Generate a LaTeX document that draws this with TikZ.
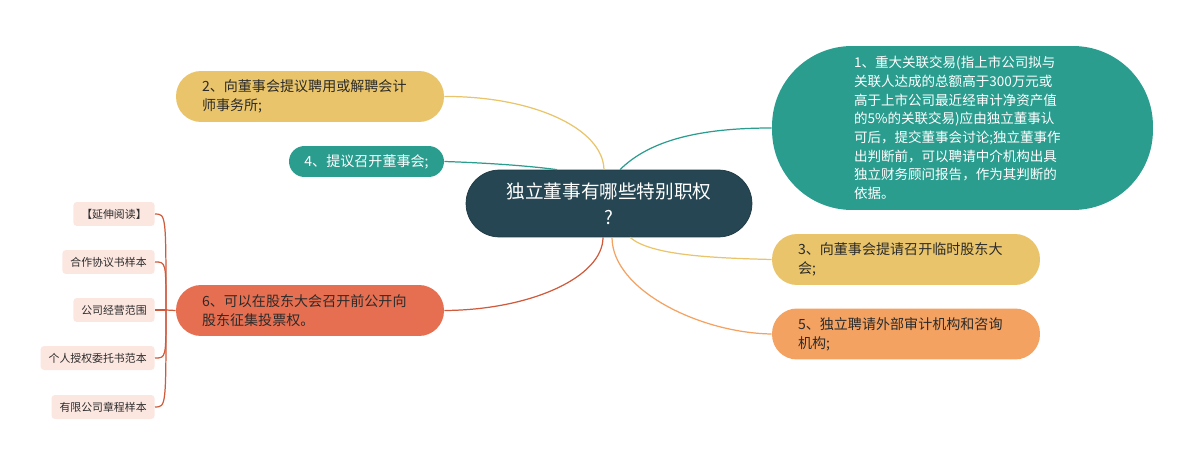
\documentclass[tikz,border=0pt]{standalone}
\usepackage{fontspec}
\setmainfont{Noto Sans CJK SC}
\usepackage{xcolor}
\usetikzlibrary{positioning, calc}

\definecolor{darkc}{HTML}{264653}
\definecolor{tealc}{HTML}{2A9D8F}
\definecolor{yellowc}{HTML}{E9C46A}
\definecolor{orangec}{HTML}{F4A261}
\definecolor{redc}{HTML}{E76F51}
\definecolor{redline}{HTML}{CF5A3C}
\definecolor{leafc}{HTML}{FCE6E0}
\definecolor{textc}{HTML}{2B2B2B}

\begin{document}
\begin{tikzpicture}[x=0.02cm, y=-0.02cm,
    topic/.style={rectangle, rounded corners=0.5cm, inner xsep=0.52cm, inner ysep=0pt, minimum height=1.02cm, text width=4.32cm, align=left, text=textc, font=\fontsize{8}{10.8}\selectfont},
    leaf/.style={rectangle, rounded corners=2pt, fill=leafc, inner xsep=0.16cm, minimum height=0.48cm, text=textc, font=\fontsize{6.2}{8}\selectfont, anchor=east},
    link/.style={line width=0.7pt}]
    \useasboundingbox (0,0) rectangle (1200,466);

    \node[rectangle, rounded corners=0.67cm, fill=darkc, draw=darkc!80!black, minimum width=5.72cm, minimum height=1.34cm, align=center, text=white, font=\fontsize{10.6}{15}\selectfont] (ctr) at (609, 203.5) {独立董事有哪些特别职权\\?};

    \node[rectangle, rounded corners=1.6cm, fill=tealc, minimum width=7.62cm, minimum height=3.28cm, inner xsep=0pt, text=white, align=left, text width=4.34cm, font=\fontsize{7.7}{10.6}\selectfont] (n1) at (962.5, 128) {1、重大关联交易(指上市公司拟与\\关联人达成的总额高于300万元或\\高于上市公司最近经审计净资产值\\的5\%的关联交易)应由独立董事认\\可后，提交董事会讨论;独立董事作\\出判断前，可以聘请中介机构出具\\独立财务顾问报告，作为其判断的\\依据。};
    \node[topic, fill=yellowc] (n2) at (310, 96.5) {2、向董事会提议聘用或解聘会计\\师事务所;};
    \node[rectangle, rounded corners=0.31cm, fill=tealc, minimum width=3.1cm, minimum height=0.62cm, text=white, font=\fontsize{8}{10.8}\selectfont] (n4) at (366.5, 161.5) {4、提议召开董事会;};
    \node[topic, fill=yellowc] (n3) at (906, 259.5) {3、向董事会提请召开临时股东大\\会;};
    \node[topic, fill=orangec] (n5) at (906, 334) {5、独立聘请外部审计机构和咨询\\机构;};
    \node[topic, fill=redc] (n6) at (310, 310.5) {6、可以在股东大会召开前公开向\\股东征集投票权。};

    \node[leaf] (l1) at (155, 214) {【延伸阅读】};
    \node[leaf] (l2) at (155, 262) {合作协议书样本};
    \node[leaf] (l3) at (155, 310) {公司经营范围};
    \node[leaf] (l4) at (155, 358) {个人授权委托书范本};
    \node[leaf] (l5) at (155, 407) {有限公司章程样本};

    \draw[link, draw=tealc] ([xshift=0.22cm]ctr.north) .. controls (650, 140) and (700, 128) .. (n1.west);
    \draw[link, draw=yellowc] ([xshift=-0.1cm]ctr.north) .. controls (603, 128) and (532, 96) .. (n2.east);
    \draw[link, draw=tealc] ([xshift=-1.04cm]ctr.north) .. controls (530, 166) and (490, 163) .. (n4.east);
    \draw[link, draw=yellowc] ([xshift=0.42cm]ctr.south) .. controls (650, 255) and (710, 258) .. (n3.west);
    \draw[link, draw=orangec] ([xshift=0.06cm]ctr.south) .. controls (612, 290) and (700, 333) .. (n5.west);
    \draw[link, draw=redline] ([xshift=-0.12cm]ctr.south) .. controls (603, 277) and (531, 310) .. (n6.east);

    \coordinate (j) at (166, 310);
    \draw[link, draw=redline] (n6.west) -- (j);
    \draw[link, draw=redline] (j) .. controls (166, 214) .. (l1.east);
    \draw[link, draw=redline] (j) .. controls (166, 262) .. (l2.east);
    \draw[link, draw=redline] (j) -- (l3.east);
    \draw[link, draw=redline] (j) .. controls (166, 358) .. (l4.east);
    \draw[link, draw=redline] (j) .. controls (166, 407) .. (l5.east);
\end{tikzpicture}
\end{document}
